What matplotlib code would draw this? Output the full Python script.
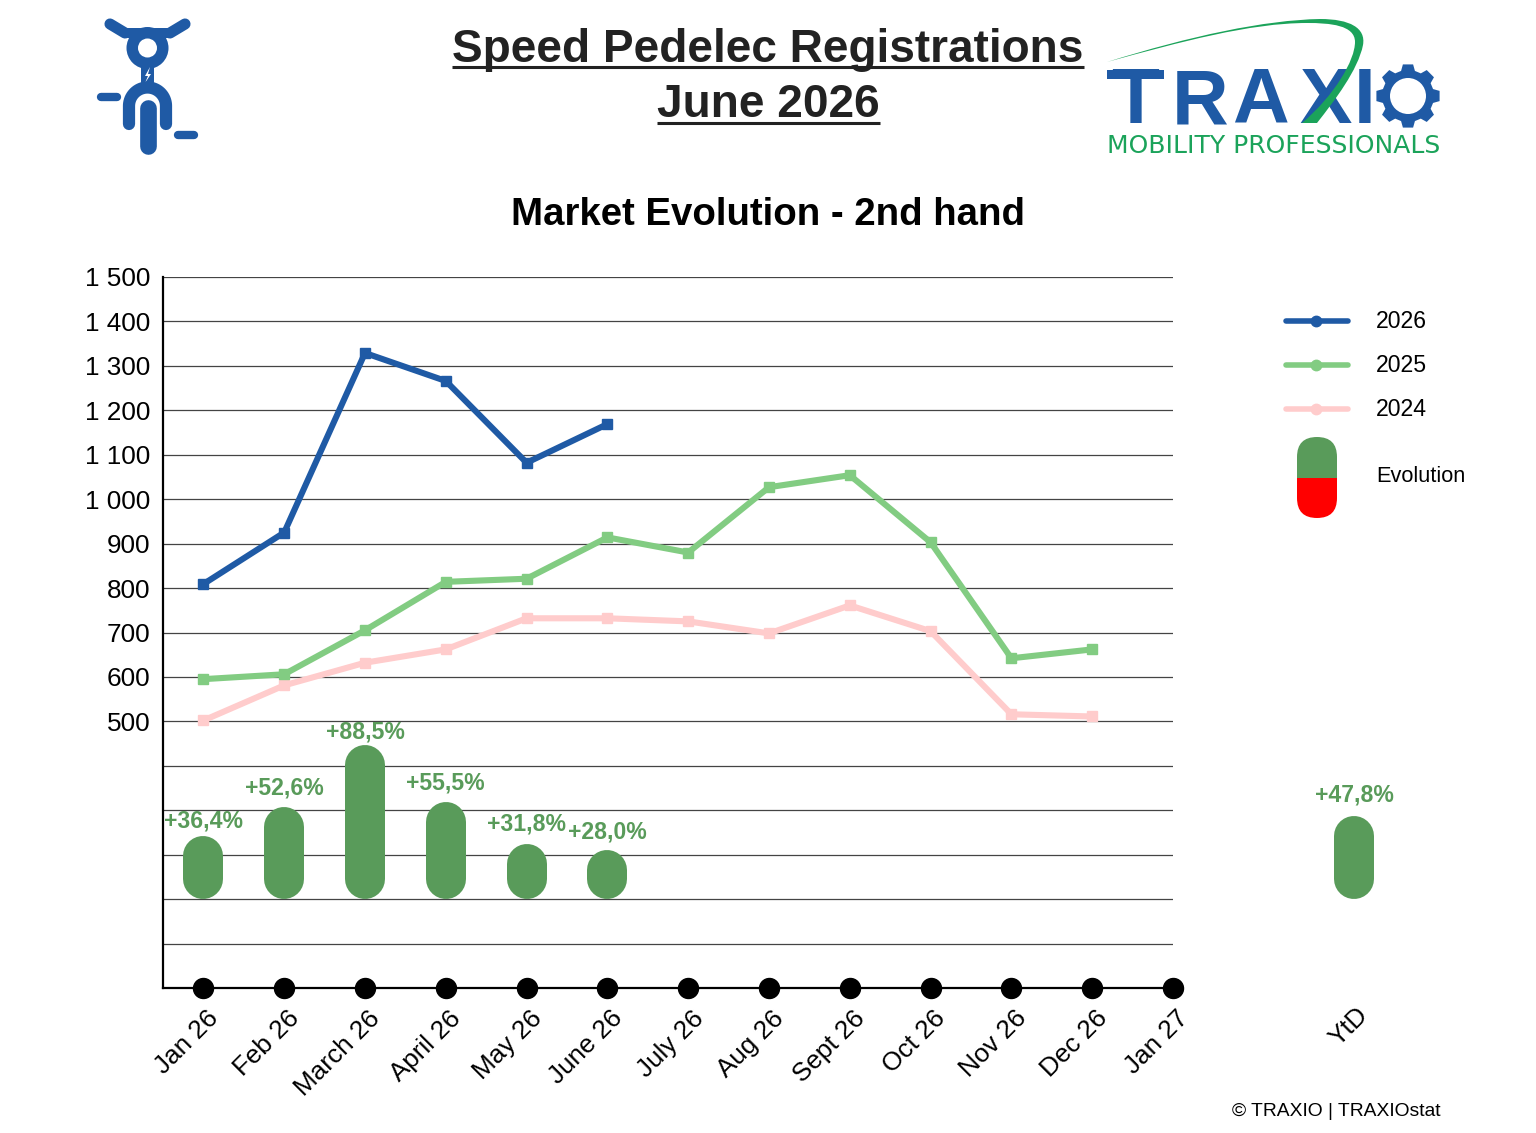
import numpy as np
import matplotlib
matplotlib.use("Agg")
import matplotlib.pyplot as plt
from matplotlib.path import Path
from matplotlib.patches import PathPatch, Circle, FancyBboxPatch, Rectangle, Polygon
from matplotlib.transforms import ScaledTranslation

months = ["Jan 26", "Feb 26", "March 26", "April 26", "May 26", "June 26", "July 26",
          "Aug 26", "Sept 26", "Oct 26", "Nov 26", "Dec 26", "Jan 27"]
v2026 = [809, 925, 1329, 1266, 1082, 1169]
v2025 = [595, 606, 705, 814, 821, 914, 880, 1027, 1054, 903, 642, 662]
v2024 = [502, 581, 632, 662, 732, 732, 725, 698, 761, 703, 516, 511]
evolution = [36.4, 52.6, 88.5, 55.5, 31.8, 28.0]
ytd = 47.8
ytick_vals = list(range(-100, 1501, 100))
label_gaps = [3, 8, 1, 8, 8, 7]   # px between capsule top and its label
ytd_gap = 9

BLUE, GREEN, PINK, CAPS, RED = "#1F5AA5", "#82CC82", "#FFCCCC", "#599B5A", "#FF0000"
GRN2 = "#1BA35A"
SANS = "Liberation Sans"
plt.rcParams["font.family"] = [SANS, "DejaVu Sans"]

W, H = 1536, 1133
fig = plt.figure(figsize=(W / 100, H / 100), dpi=100, facecolor="white")
ax = fig.add_axes([163 / W, 1 - 988 / H, (1173 - 163) / W, (988 - 277) / H])
ax.set_xlim(-0.5, 12)
ax.set_ylim(-100, 1500)
ax.patch.set_alpha(0)
for s in ("top", "right"):
    ax.spines[s].set_visible(False)
for s in ("left", "bottom"):
    ax.spines[s].set_linewidth(1.6)
ax.set_yticks(ytick_vals)
ax.set_yticklabels([f"{v:,}".replace(",", " ") if v >= 500 else "" for v in ytick_vals], fontsize=18.8)
ax.set_xticks(range(13))
ax.set_xticklabels(months, rotation=45, ha="right", rotation_mode="anchor", fontsize=18.8)
ax.tick_params(length=0)
ax.tick_params(axis="x", pad=13)
ax.tick_params(axis="y", pad=9)
shift = ScaledTranslation(3 / 100, 0, fig.dpi_scale_trans)
for lab in ax.get_xticklabels():
    lab.set_transform(lab.get_transform() + shift)
ax.set_axisbelow(True)
ax.yaxis.grid(True, color="#444444", lw=0.9)

for vals, c in ((v2024, PINK), (v2025, GREEN), (v2026, BLUE)):
    ax.plot(range(len(vals)), vals, color=c, lw=4.4, marker="s", ms=7.6, solid_joinstyle="round", zorder=3)

BASE = 100          # axis value of the 0 % line
UNITS = 3.92        # axis units per percent
CAP_R = 45          # half-width of capsule in axis units
CAP_LW = 40 * 0.72


def capsule(x, pct, gap):
    top = BASE + pct * UNITS
    ax.plot([x, x], [BASE + CAP_R, top - CAP_R], color=CAPS, lw=CAP_LW, solid_capstyle="round",
            clip_on=False, zorder=4)
    ax.annotate(f"+{pct:.1f}%".replace(".", ","), xy=(x, top), xytext=(0, gap * 0.72),
                textcoords="offset points", color=CAPS, ha="center", va="bottom",
                weight="bold", fontsize=16.6, zorder=5, annotation_clip=False)


for i, p in enumerate(evolution):
    capsule(i, p, label_gaps[i])
YTD_X = 14.24
capsule(YTD_X, ytd, ytd_gap)
ax.annotate("YtD", xy=(YTD_X, -100), xytext=(1.5, -11), textcoords="offset points", rotation=45,
            ha="right", va="top", rotation_mode="anchor", fontsize=18.8, annotation_clip=False)
ax.plot(range(13), [-100] * 13, "o", color="black", ms=14.4, clip_on=False, zorder=6)

ov = fig.add_axes([0, 0, 1, 1])
ov.set_xlim(0, W)
ov.set_ylim(H, 0)
ov.axis("off")
ov.patch.set_alpha(0)

ov.text(768, 50, "Speed Pedelec Registrations", ha="center", va="center", fontsize=33.1, weight="bold", color="#222222")
ov.text(768, 105, "June 2026", ha="center", va="center", fontsize=33.1, weight="bold", color="#222222")
ov.plot([452, 1084], [66.5, 66.5], color="#222222", lw=2.2, solid_capstyle="butt")
ov.plot([657, 880], [122.5, 122.5], color="#222222", lw=2.2, solid_capstyle="butt")
ov.text(768, 215, "Market Evolution - 2nd hand", ha="center", va="center", fontsize=27.6, weight="bold", color="black")
ov.text(1440, 1112, "© TRAXIO | TRAXIOstat", ha="right", va="center", fontsize=13.9, color="black")

for y, c, lab in ((321, BLUE, "2026"), (365, GREEN, "2025"), (409, PINK, "2024")):
    ov.plot([1286, 1348], [y, y], color=c, lw=4, solid_capstyle="round")
    ov.plot([1316], [y], "o", color=c, ms=7.5)
    ov.text(1376, y, lab, va="center", ha="left", fontsize=16.6)
ov.text(1376, 477, "Evolution", va="center", ha="left", fontsize=15.7)
for c, (y0, y1) in ((CAPS, (437, 478)), (RED, (478, 518))):
    p = FancyBboxPatch((1297, 437), 40, 81, boxstyle="round,pad=0,rounding_size=20", fc=c, ec="none")
    ov.add_patch(p)
    p.set_clip_path(Rectangle((1290, y0), 54, y1 - y0, transform=ov.transData))

# bike icon
ic = dict(color=BLUE, solid_capstyle="round")
ov.plot([110, 125], [24, 33], lw=8, **ic)
ov.plot([185, 170], [24, 33], lw=8, **ic)
ov.add_patch(Polygon([(124, 28), (171, 28), (171, 38), (124, 38)], fc=BLUE, ec="none"))
ov.add_patch(Circle((147.5, 48), 21, fc=BLUE, ec="none"))
ov.add_patch(Circle((147.5, 48), 9.5, fc="white", ec="none"))
ov.add_patch(Rectangle((141, 65), 13, 20, fc=BLUE, ec="none"))
ov.add_patch(Polygon([(150, 67), (145, 76), (148, 76), (145, 83), (151, 74), (148, 74)], fc="white", ec="none"))
t = np.linspace(np.pi, 2 * np.pi, 40)
arch_x = np.r_[129, 147.5 + 18.5 * np.cos(t), 166]
arch_y = np.r_[124, 106 + 18.5 * np.sin(t), 124]
ov.plot(arch_x, arch_y, lw=8.8, **ic)
ov.plot([147.5, 147.5], [108, 146], lw=12, **ic)
ov.plot([101, 117], [97, 97], lw=6, **ic)
ov.plot([178, 194], [135, 135], lw=6, **ic)

# TRAXIO logo
for ch, x in zip("TRAXI", (1135.5, 1200, 1260, 1325, 1364.5)):
    ov.text(x, 123, ch, color=BLUE, ha="center", va="baseline", fontsize=56.5, weight="bold")
ov.add_patch(Rectangle((1107, 70), 57, 9, fc=BLUE, ec="none"))
angles = np.linspace(0, 2 * np.pi, 8, endpoint=False) + np.pi / 4
pts = []
for a in angles:
    for da, r in ((-0.27, 26), (-0.16, 32), (0.16, 32), (0.27, 26)):
        pts.append((1408 + r * np.cos(a + da), 96 + r * np.sin(a + da)))
ov.add_patch(Polygon(pts, fc=BLUE, ec="none"))
ov.add_patch(Circle((1408, 96), 18, fc="white", ec="none"))
sw = [(1107, 62), (1190, 36), (1265, 20), (1320, 19), (1350, 19), (1366, 28), (1363, 45),
      (1358, 70), (1335, 100), (1317, 123), (1302, 123),
      (1335, 95), (1355, 60), (1355, 42), (1355, 25), (1330, 23), (1307, 23),
      (1250, 23), (1180, 42), (1107, 62)]
codes = [Path.MOVETO] + [Path.CURVE4] * 9 + [Path.LINETO] + [Path.CURVE4] * 9
ov.add_patch(PathPatch(Path(sw, codes), fc=GRN2, ec="none", zorder=5))
ov.text(1107, 153, "MOBILITY PROFESSIONALS", color=GRN2, ha="left", va="baseline", fontsize=18,
        family=["DejaVu Sans"])

fig.savefig("out.png", dpi=100, facecolor="white")
